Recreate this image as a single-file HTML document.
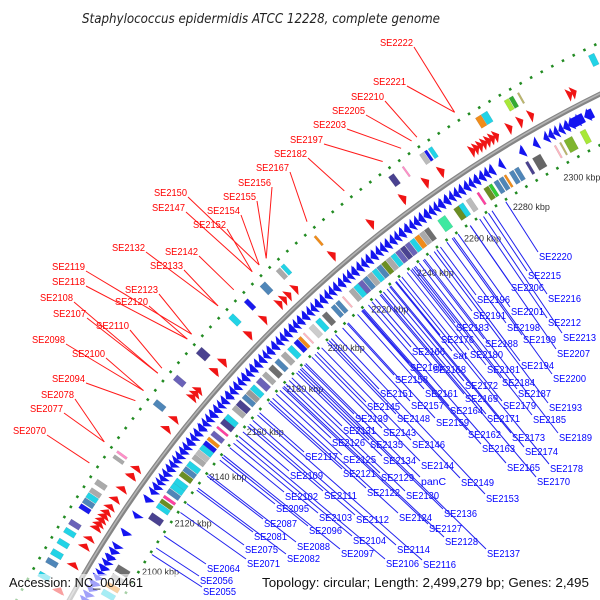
<!DOCTYPE html>
<html><head><meta charset="utf-8"><style>
html,body{margin:0;padding:0;background:#fff;width:600px;height:600px;overflow:hidden;}
svg{display:block;font-family:"Liberation Sans","DejaVu Sans",sans-serif;}
</style></head><body>
<svg id="map" width="600" height="600" viewBox="0 0 600 600" xmlns="http://www.w3.org/2000/svg">
<rect width="600" height="600" fill="#fff"/>
<text x="261" y="23" text-anchor="middle" font-size="13" font-style="italic" fill="#222" textLength="358" lengthAdjust="spacingAndGlyphs" font-family="DejaVu Sans, sans-serif">Staphylococcus epidermidis ATCC 12228, complete genome</text>
<g id="rings"></g>
<g id="features"></g>
<g id="ticks"></g>
<rect x="0" y="574" width="600" height="26" fill="#fff" opacity="0.6"/>
<g id="labels"></g>
<text x="9" y="587" font-size="13" fill="#111" textLength="134" lengthAdjust="spacingAndGlyphs">Accession: NC_004461</text>
<text x="262" y="587" font-size="13" fill="#111" textLength="327" lengthAdjust="spacingAndGlyphs">Topology: circular; Length: 2,499,279 bp; Genes: 2,495</text>
</svg>
<script>
const CX=1143, CY=1195, GENOME_KBP=2499.279;
const tickKbp=[2100,2120,2140,2160,2180,2200,2220,2240,2260,2280,2300];
const tickLabels=["2100 kbp","2120 kbp","2140 kbp","2160 kbp","2180 kbp","2200 kbp","2220 kbp","2240 kbp","2260 kbp","2280 kbp","2300 kbp"];
const fwdStart=[2076,2085.5,2092.5,2095.5,2099.5,2101,2102.5,2104,2105.5,2107.5,2110.5,2114.5,2119.5,2122.5,2138.5,2142.5,2151.5,2153,2154.5,2162.5,2166.5,2178.5,2185.5,2192.5,2194.5,2196.5,2199.5,2215.5,2231.5,2244.5,2253.5,2259.5,2271.5,2273,2274.5,2276,2277.5,2279,2280.5,2285.5,2289.5,2293.5,2307.5,2309];
const fwdLen=[2,1.8,1.8,1.6,1.8,1.8,1.8,1.8,1.8,1.8,1.8,1.8,2,1.8,1.8,1.8,1.8,1.8,1.8,2,2,2,1.8,1.8,1.8,1.8,1.8,2,2,2,2,2,1.8,1.8,1.8,1.8,1.8,1.8,1.8,1.8,1.8,1.8,1.8,1.8];
const revStart=[2077,2079,2081.2,2083,2085.5,2087.3,2089,2091.2,2093,2095.4,2097.5,2102.6,2109.5,2115.8,2119,2120.8,2122.9,2124.4,2126.2,2128.1,2130,2131.8,2133.4,2135.3,2137.2,2139,2141.1,2142.9,2145,2147.2,2149,2150.8,2152.9,2155,2156.7,2158.8,2161,2162.9,2165,2166.8,2169,2170.7,2172.9,2175,2177.1,2178.8,2181,2183.2,2185,2186.9,2189,2191.1,2192.8,2195,2197.2,2199,2200.8,2203,2205.1,2207,2208.9,2211,2213.2,2215,2216.8,2219,2221.1,2222.9,2225,2227.2,2229,2230.9,2233,2235,2236.8,2239,2241.2,2243,2244.9,2247,2249.1,2251,2252.8,2255,2257.2,2259,2260.9,2263,2265,2266.8,2269,2271,2272.8,2276.6,2284.6,2289.8,2293.8,2295.6,2297.5,2299.4,2301.2,2303,2305.2,2309,2313,2316.5];
const revLen=[2,2,1.8,2.2,1.8,1.7,2.1,1.8,2.2,2,1.8,2,1.8,2,1.8,2,1.6,1.8,1.9,2,1.8,1.7,1.9,2,1.8,2.1,1.8,2,2.2,1.8,1.8,2.1,2,1.7,2,2.2,1.9,2,1.8,2.1,1.7,2.1,2,2,1.7,2.1,2.1,1.8,1.9,2,2.1,1.7,2.1,2.1,1.8,1.8,2.1,2,1.9,1.9,2,2.1,1.8,1.8,2.1,2,1.8,2,2.1,1.8,1.9,2,2,1.8,2.1,2.1,1.8,1.9,2,2.1,1.9,1.8,2.1,2.1,1.8,1.9,2,2,1.8,2.1,2,1.8,2,1.8,2,1.9,1.8,1.9,1.8,1.8,2.1,3.6,3.6,3.2];
const innerCogStart=[2082.5,2085.5,2088.5,2091.5,2112,2116.5,2118.5,2120.5,2122.5,2124.5,2126.5,2129.5,2131.5,2133.5,2136.5,2138.5,2140.5,2142.5,2144.5,2146.5,2149.5,2151.5,2153.5,2157.5,2159.5,2162.5,2164.5,2166.5,2169.5,2172.5,2175.5,2178.5,2181.5,2184.5,2187.5,2189.5,2191.8,2194.5,2197.5,2200.5,2204.5,2206.5,2209.5,2212.5,2214.5,2216.5,2218.5,2220.5,2222.5,2224.5,2226.5,2228.5,2230.5,2232.5,2234.5,2236.5,2238.5,2240.5,2242.5,2244.5,2250,2256.5,2258.5,2261.5,2265.8,2268.5,2270.5,2272.5,2274.5,2276.5,2278.5,2280.5,2284.8,2287.5,2295.8,2297.8,2299.5,2305.5];
const innerCogLen=[2,1.8,2,2.4,2.4,1.8,1.5,1,1.8,2,2,1.8,1.8,2,1.8,1.8,2,1.6,1.2,1.8,0.8,2.4,2,1.8,2.2,1.8,1.8,2,2.2,1.8,2,1.8,2,2,1.8,1.2,0.6,2,2,2,1.6,1.6,0.6,1.8,2,1.8,1.8,1.8,1.8,1.8,1.8,1.8,1.8,1.8,1.8,1.8,1.8,1.8,1.8,1.8,3,2.6,1.8,1.8,0.8,1.8,1.2,1.6,1.6,0.8,1.6,1.6,1,3,0.6,0.6,3,2];
const innerCogColor=["#22d3e6","#f08c1a","#aaaaaa","#6f6f6f","#4a4290","#22d3e6","#6b8e23","#ff3fa0","#4f86b8","#22d3e6","#22d3e6","#6b8e23","#4f86b8","#22d3e6","#aaaaaa","#bbbbbb","#22d3e6","#1a1aee","#f08c1a","#6a62b8","#ff3fa0","#4a4290","#22d3e6","#aaaaaa","#4a4290","#4f86b8","#999999","#22d3e6","#6a62b8","#aaaaaa","#6f6f6f","#4f86b8","#aaaaaa","#22d3e6","#1a1aee","#f08c1a","#ffb6c1","#cccccc","#22d3e6","#6f6f6f","#4f86b8","#4f86b8","#ffb6c1","#aaaaaa","#22d3e6","#6a62b8","#4f86b8","#aaaaaa","#22d3e6","#4f86b8","#6b8e23","#aaaaaa","#22d3e6","#6a62b8","#4a4290","#6a62b8","#22d3e6","#f08c1a","#aaaaaa","#6f6f6f","#3ee8a0","#6b8e23","#22d3e6","#bbbbbb","#ff3fa0","#6b8e23","#33cc33","#4f86b8","#4f86b8","#f08c1a","#4f86b8","#4f86b8","#4a4290","#666666","#ffb6c1","#bdb76b","#7fb52e","#a8e838"];
const outerCogStart=[2077.5,2082.5,2085.5,2089.5,2093.5,2096.5,2102.5,2104.5,2106.5,2108.5,2111.5,2121.5,2123.5,2142.5,2152.5,2163.5,2178.5,2185.5,2192.5,2199.5,2201.5,2215.5,2245.5,2250.8,2257.5,2259.3,2260.8,2278.5,2280.6,2289,2290.8,2293.8,2319];
const outerCogLen=[1.8,1.8,2,1.8,1.8,1.8,1.6,1.8,1.8,1.6,1.8,1.2,0.8,2,2,2.6,2,1.6,2.2,1.6,1.4,0.8,2,0.6,1.6,1,1.4,2,2.2,1.6,1.4,0.6,2];
const outerCogColor=["#22d3e6","#4f86b8","#22d3e6","#22d3e6","#22d3e6","#6a62b8","#1a1aee","#4f86b8","#22d3e6","#aaaaaa","#aaaaaa","#aaaaaa","#ff8fc8","#4f86b8","#6a62b8","#4a4290","#22d3e6","#1a1aee","#4f86b8","#aaaaaa","#22d3e6","#f08c1a","#4a4290","#ff8fc8","#bbbbbb","#1a1aee","#22d3e6","#f08c1a","#22d3e6","#a8e838","#33aa33","#bdb76b","#22d3e6"];
const redLabelNames=["SE2222","SE2221","SE2210","SE2205","SE2203","SE2197","SE2182","SE2167","SE2156","SE2155","SE2150","SE2154","SE2147","SE2152","SE2132","SE2142","SE2133","SE2119","SE2118","SE2123","SE2120","SE2108","SE2107","SE2110","SE2098","SE2100","SE2094","SE2078","SE2077","SE2070"];
const redLabelKbp=[2274,2274,2260,2258,2254,2247,2232,2217,2200,2200,2197,2197,2194,2194,2179,2186,2179,2167,2165,2167,2165,2151,2151,2153,2144,2144,2140,2124,2124,2116];
const redLabelLayoutX=[380,373,351,332,313,290,274,256,238,223,154,207,152,193,112,165,150,52,52,125,115,40,53,96,32,72,52,41,30,13];
const redLabelLayoutY=[46,85,100,114,128,143,157,171,186,200,196,214,211,228,251,255,269,270,285,293,305,301,317,329,343,357,382,398,412,434];
const blueLabelNames=["SE2220","SE2215","SE2206","SE2216","SE2196","SE2201","SE2191","SE2212","SE2183","SE2198","SE2213","SE2176","SE2199","SE2188","SE2207","SE2166","sat","SE2180","SE2194","SE2160","SE2168","SE2181","SE2200","SE2158","SE2151","SE2161","SE2172","SE2184","SE2187","SE2169","SE2145","SE2157","SE2179","SE2193","SE2164","SE2139","SE2148","SE2171","SE2185","SE2159","SE2131","SE2143","SE2162","SE2173","SE2189","SE2126","SE2135","SE2146","SE2163","SE2174","SE2117","SE2125","SE2134","SE2144","SE2165","SE2178","SE2109","SE2121","SE2129","panC","SE2149","SE2170","SE2102","SE2111","SE2122","SE2130","SE2153","SE2095","SE2136","SE2103","SE2112","SE2124","SE2087","SE2127","SE2096","SE2081","SE2128","SE2104","SE2088","SE2075","SE2114","SE2097","SE2137","SE2082","SE2071","SE2106","SE2116","SE2064","SE2056","SE2055"];
const blueLabelLayoutX=[539,528,511,548,477,511,473,548,456,507,563,441,523,485,557,412,453,470,521,410,433,487,553,395,380,425,465,502,518,465,367,411,503,549,450,355,397,487,533,436,343,383,468,512,559,332,370,412,482,525,305,343,383,421,507,550,290,343,381,421,461,537,285,324,367,406,486,276,444,319,356,399,264,429,309,254,445,353,297,245,397,341,487,287,247,386,423,207,200,203];
const blueLabelLayoutY=[256,275,287,298,299,311,315,322,327,327,337,339,339,343,353,351,355,354,365,367,369,369,378,379,393,393,385,382,393,398,406,405,405,407,410,418,418,418,419,422,430,432,434,437,437,442,444,444,448,451,456,459,460,465,467,468,475,473,477,481,482,481,496,495,492,495,498,508,513,517,519,517,523,528,530,536,541,540,546,549,549,553,553,558,563,563,564,568,580,591];

const NS="http://www.w3.org/2000/svg";
function polar(kbp,r){const a=kbp/GENOME_KBP*2*Math.PI;return [CX+r*Math.sin(a),CY-r*Math.cos(a)];}
function mk(tag,attrs,parent){const e=document.createElementNS(NS,tag);for(const k in attrs)e.setAttribute(k,attrs[k]);parent.appendChild(e);return e;}
function ptsStr(list){return list.map(p=>{const q=polar(p[0],p[1]);return q[0].toFixed(2)+","+q[1].toFixed(2);}).join(" ");}

const rings=document.getElementById('rings');
const feats=document.getElementById('features');
const ticks=document.getElementById('ticks');
const labels=document.getElementById('labels');

let c1=mk('circle',{cx:CX,cy:CY,r:1274,fill:'none',stroke:'#228b22','stroke-width':2.6,'stroke-dasharray':'2.5 9.5'},rings);


let c2=mk('circle',{cx:CX,cy:CY,r:1182,fill:'none',stroke:'#228b22','stroke-width':2.6,'stroke-dasharray':'2.5 9.5'},rings);


let bb=mk('circle',{cx:CX,cy:CY,r:1227.5,fill:'none',stroke:'#858585','stroke-width':5},rings);


let bb2=mk('circle',{cx:CX,cy:CY,r:1228,fill:'none',stroke:'#b4b4b4','stroke-width':1.6},rings);



function box(s,l,r1,r2,color,name){
  const e=s+l;
  const p=mk('polygon',{points:ptsStr([[s,r1],[s,r2],[e,r2],[e,r1]]),fill:color,stroke:'rgba(0,0,0,0.15)','stroke-width':0.5},feats);
  
  
}
for(let i=0;i<innerCogStart.length;i++){box(innerCogStart[i],innerCogLen[i],1189,1203,innerCogColor[i],'reverse-cog-box');}
for(let i=0;i<outerCogStart.length;i++){box(outerCogStart[i],outerCogLen[i],1255,1267,outerCogColor[i],'forward-cog-box');}

for(let i=0;i<fwdStart.length;i++){
  const s=fwdStart[i],e=s+fwdLen[i],h=Math.min(fwdLen[i],1.9),r1=1234,r2=1248,m=(r1+r2)/2;
  const p=mk('polygon',{points:ptsStr([[s,r1+2],[s,r2-2],[e-h,r2-2],[e-h,r2],[e,m],[e-h,r1],[e-h,r1+2]]),fill:'#f01414'},feats);
  
  
}
for(let i=0;i<revStart.length;i++){
  const s=revStart[i],e=s+revLen[i],h=Math.min(revLen[i],1.9),r1=1207,r2=1221,m=(r1+r2)/2;
  const p=mk('polygon',{points:ptsStr([[e,r1+2],[e,r2-2],[s+h,r2-2],[s+h,r2],[s,m],[s+h,r1],[s+h,r1+2]]),fill:'#1414f0'},feats);
  
  
}

for(let i=0;i<tickKbp.length;i++){
  const q=polar(tickKbp[i],1160);
  const t=mk('text',{x:(q[0]-4).toFixed(1),y:(q[1]+3).toFixed(1),'text-anchor':'middle','font-size':9,fill:'#333'},ticks);
  t.textContent=tickLabels[i];
  
  
}

for(let i=0;i<redLabelNames.length;i++){
  const x=redLabelLayoutX[i],y=redLabelLayoutY[i];
  const q=polar(redLabelKbp[i],1283);
  const ln=mk('line',{x1:x+34,y1:y+1,x2:q[0].toFixed(1),y2:q[1].toFixed(1),stroke:'#ff1a1a','stroke-width':1},labels);
  
  
  const t=mk('text',{x:x,y:y,'font-size':10.5,fill:'#ff0000',textLength:33,lengthAdjust:'spacingAndGlyphs'},labels);
  t.textContent=redLabelNames[i];
  
  
}
for(let i=0;i<blueLabelNames.length;i++){
  const x=blueLabelLayoutX[i],y=blueLabelLayoutY[i]+4;
  const sx=x-1,sy=y-8;
  const dx=sx-CX,dy=sy-CY,d=Math.sqrt(dx*dx+dy*dy);
  const ex=CX+dx*1180/d,ey=CY+dy*1180/d;
  const ln=mk('line',{x1:sx,y1:sy,x2:ex.toFixed(1),y2:ey.toFixed(1),stroke:'#2020ee','stroke-width':1},labels);
  
  
  const attrs={x:x,y:y,'font-size':10.5,fill:'#0000ff'};
  if(blueLabelNames[i].length===6){attrs.textLength=33;attrs.lengthAdjust='spacingAndGlyphs';}
  const t=mk('text',attrs,labels);
  t.textContent=blueLabelNames[i];
  
  
}
</script>
</body></html>
